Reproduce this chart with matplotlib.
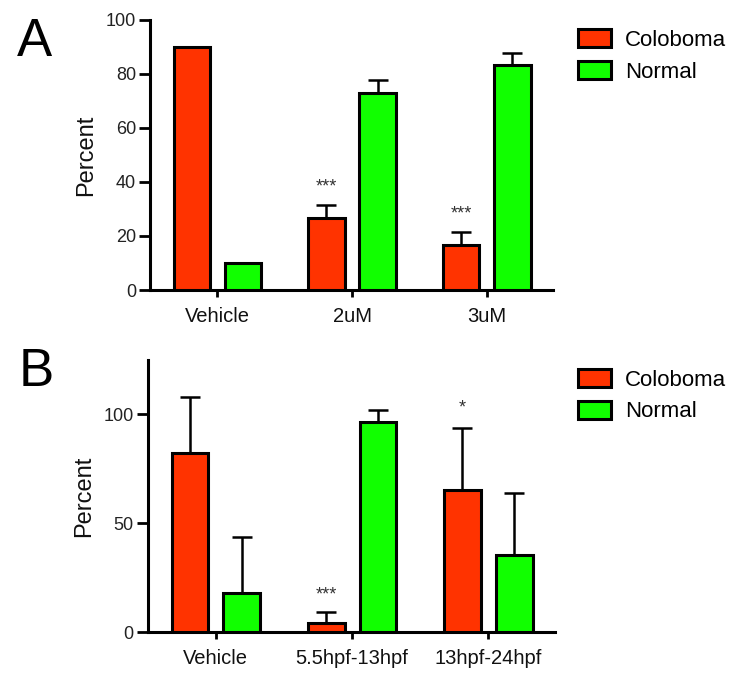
import numpy as np, matplotlib
matplotlib.use('Agg')
import matplotlib.pyplot as plt

plt.rcParams['font.family'] = ['Liberation Sans', 'DejaVu Sans']

RED = '#FF3300'; GREEN = '#11FF00'

# Panel A
a_groups = ['Vehicle', '2uM', '3uM']
a_colo = [90, 26.7, 16.7]
a_colo_err = [0, 4.8, 4.8]
a_norm = [10, 73, 83.3]
a_norm_err = [0, 4.8, 4.5]
a_stars = ['', '***', '***']

# Panel B
b_groups = ['Vehicle', '5.5hpf-13hpf', '13hpf-24hpf']
b_colo = [82.4, 4.1, 65]
b_colo_err = [25.3, 5.1, 28.5]
b_norm = [18, 96.3, 35.5]
b_norm_err = [25.7, 5.7, 28.5]
b_stars = ['', '***', '*']

fig = plt.figure(figsize=(7.5, 6.84), dpi=100)
fig.patch.set_facecolor('white')
axA = fig.add_axes([0.200, 0.576, 0.537, 0.395])
axB = fig.add_axes([0.197, 0.076, 0.543, 0.398])

W = 0.27; OFF = 0.19

def panel(ax, groups, colo, colo_err, norm, norm_err, stars, ymax, yticks, star_y, leg_y):
    x = np.arange(len(groups))
    ek = dict(ecolor='black', elinewidth=1.8, capsize=7, capthick=1.8)
    ax.bar(x - OFF, colo, W, color=RED, edgecolor='black', linewidth=2.2,
           yerr=[np.zeros(len(x)), colo_err], error_kw=ek, label='Coloboma', zorder=3)
    ax.bar(x + OFF, norm, W, color=GREEN, edgecolor='black', linewidth=2.2,
           yerr=[np.zeros(len(x)), norm_err], error_kw=ek, label='Normal', zorder=3)
    for i, s in enumerate(stars):
        if s:
            ax.text(x[i] - OFF, star_y[i], s, ha='center', va='center', fontsize=13, color='#333333')
    ax.set_xlim(-0.5, 2.49)
    ax.set_ylim(0, ymax)
    ax.set_yticks(yticks)
    ax.set_xticks(x)
    ax.set_xticklabels(groups, fontsize=14.5, color='#111111')
    ax.tick_params(axis='y', labelsize=13, width=2, length=8, direction='out', pad=2, colors='black',
                   labelcolor='#222222')
    ax.tick_params(axis='x', width=2, length=5, direction='out', pad=7)
    for s in ['top', 'right']:
        ax.spines[s].set_visible(False)
    for s in ['left', 'bottom']:
        ax.spines[s].set_linewidth(2.2)
    ax.set_ylabel('Percent', fontsize=17, labelpad=6, color='#111111')
    fig.legend(*ax.get_legend_handles_labels(), loc='upper left', bbox_to_anchor=(0.759, leg_y),
               frameon=False, fontsize=16, handlelength=1.5, handleheight=0.9,
               labelspacing=0.45, handletextpad=0.6, borderaxespad=0)

panel(axA, a_groups, a_colo, a_colo_err, a_norm, a_norm_err, a_stars, 100, [0, 20, 40, 60, 80, 100], [0, 38, 28], 0.971)
panel(axB, b_groups, b_colo, b_colo_err, b_norm, b_norm_err, b_stars, 125, [0, 50, 100], [0, 17, 103], 0.474)

fig.text(0.022, 0.975, 'A', fontsize=38, va='top', ha='left')
fig.text(0.025, 0.493, 'B', fontsize=38, va='top', ha='left')

fig.savefig('out.png', dpi=100, facecolor='white')
